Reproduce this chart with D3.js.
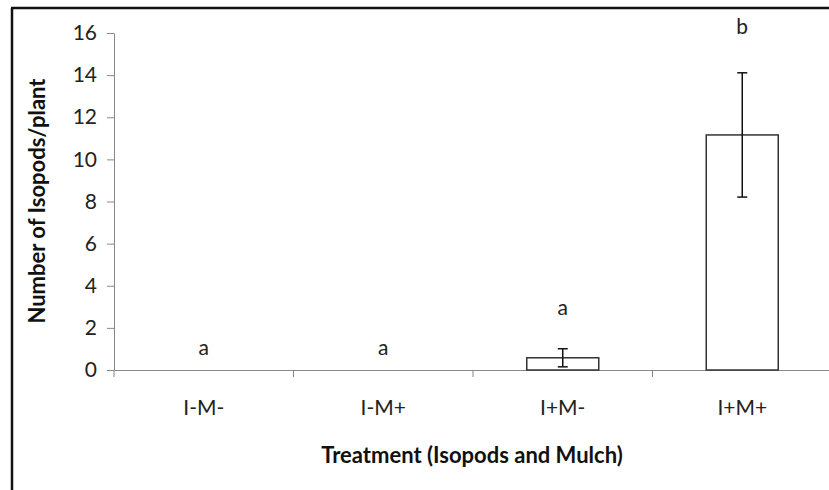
<!DOCTYPE html>
<html><head><meta charset="utf-8">
<script src="https://cdn.jsdelivr.net/npm/d3@7"></script>
<style>body{margin:0;background:#fff}svg{display:block}</style>
</head><body>
<svg id="c" width="829" height="490"></svg>
<script>
const categories = ["I-M-", "I-M+", "I+M-", "I+M+"];
const means = [0, 0, 0.58, 11.16];
const errors = [0, 0, 0.43, 2.95];
const letters = ["a", "a", "a", "b"];
const letterPos = [1.04, 1.04, 2.94, 16.3];
const yTicks = [0, 2, 4, 6, 8, 10, 12, 14, 16];

const svg = d3.select("#c");
const font = "Lato, 'Open Sans', sans-serif";
const x0 = 114, x1 = 832, yTop = 33, yBot = 370;
const x = d3.scaleBand().domain(categories).range([x0, x1]).paddingInner(0).paddingOuter(0);
const y = d3.scaleLinear().domain([0, 16]).range([yBot, yTop]);

// frame
svg.append("line").attr("x1", 12).attr("x2", 12).attr("y1", 8).attr("y2", 490).attr("stroke", "#111").attr("stroke-width", 2.5);
svg.append("line").attr("x1", 11).attr("x2", 829).attr("y1", 8).attr("y2", 8).attr("stroke", "#111").attr("stroke-width", 2.5);

// y axis
const ya = svg.append("g").attr("transform", `translate(${x0},0)`)
  .call(d3.axisLeft(y).tickValues(yTicks).tickSize(7).tickSizeOuter(0).tickPadding(10));
ya.select(".domain").attr("stroke", "#888");
ya.selectAll(".tick line").attr("stroke", "#888");
ya.selectAll(".tick text").attr("font-family", font).attr("font-size", 21).attr("fill", "#222");

// x axis line + ticks at band boundaries
const xa = svg.append("g").attr("transform", `translate(0,${yBot})`)
  .call(d3.axisBottom(x).tickSize(0).tickSizeOuter(0).tickPadding(30));
xa.select(".domain").attr("stroke", "#888");
xa.selectAll(".tick text").attr("font-family", font).attr("font-size", 21).attr("fill", "#222");
svg.append("g").selectAll("line").data(categories).join("line")
  .attr("x1", d => x(d)).attr("x2", d => x(d))
  .attr("y1", yBot).attr("y2", yBot + 7).attr("stroke", "#888");

// bars
const bw = 72;
svg.append("g").selectAll("rect").data(categories).join("rect")
  .attr("x", d => x(d) + x.bandwidth() / 2 - bw / 2)
  .attr("width", bw)
  .attr("y", (d, i) => y(means[i]))
  .attr("height", (d, i) => yBot - y(means[i]))
  .attr("fill", "#fff").attr("stroke", "#333").attr("stroke-width", 1.5)
  .style("display", (d, i) => means[i] > 0 ? null : "none");

// error bars
const eg = svg.append("g").attr("stroke", "#111").attr("stroke-width", 1.5);
categories.forEach((c, i) => {
  if (errors[i] <= 0) return;
  const cx = x(c) + x.bandwidth() / 2;
  const top = y(means[i] + errors[i]), bot = y(means[i] - errors[i]);
  eg.append("line").attr("x1", cx).attr("x2", cx).attr("y1", top).attr("y2", bot);
  eg.append("line").attr("x1", cx - 5).attr("x2", cx + 5).attr("y1", top).attr("y2", top);
  eg.append("line").attr("x1", cx - 5).attr("x2", cx + 5).attr("y1", bot).attr("y2", bot);
});

// letters
svg.append("g").selectAll("text").data(categories).join("text")
  .attr("x", d => x(d) + x.bandwidth() / 2)
  .attr("y", (d, i) => y(letterPos[i]))
  .attr("dy", "0.35em")
  .attr("text-anchor", "middle")
  .attr("font-family", font).attr("font-size", 21).attr("fill", "#222")
  .text((d, i) => letters[i]);

// axis titles
svg.append("text").attr("x", 472).attr("y", 463).attr("text-anchor", "middle")
  .attr("font-family", font).attr("font-weight", "bold").attr("font-size", 22).attr("fill", "#111")
  .text("Treatment (Isopods and Mulch)");
svg.append("text").attr("transform", "translate(45,201) rotate(-90)").attr("text-anchor", "middle")
  .attr("font-family", font).attr("font-weight", "bold").attr("font-size", 22).attr("fill", "#111")
  .text("Number of Isopods/plant");
</script>
</body></html>
